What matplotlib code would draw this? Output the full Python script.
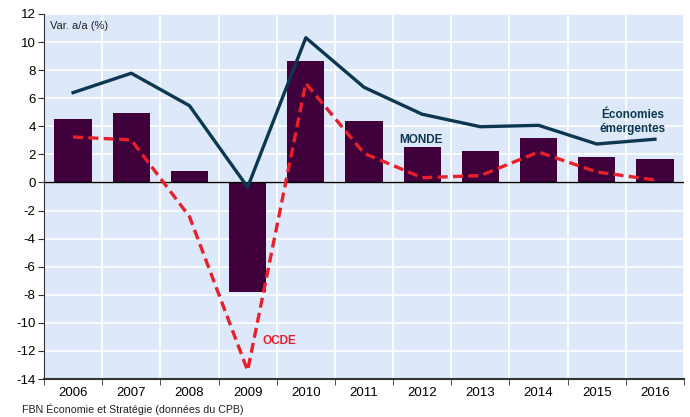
import numpy as np
import matplotlib.pyplot as plt

plt.rcParams['font.family'] = ['Liberation Sans', 'DejaVu Sans']
plt.rcParams['axes.unicode_minus'] = False

years = ['2006', '2007', '2008', '2009', '2010', '2011', '2012', '2013', '2014', '2015', '2016']
monde = [4.5, 4.93, 0.82, -7.78, 8.63, 4.38, 2.53, 2.22, 3.15, 1.8, 1.67]
emergentes = [6.4, 7.78, 5.47, -0.34, 10.31, 6.78, 4.86, 3.97, 4.07, 2.74, 3.08]
ocde = [3.24, 3.03, -2.43, -13.4, 7.07, 2.08, 0.34, 0.49, 2.17, 0.75, 0.18]

x = np.arange(len(years))

fig = plt.figure(figsize=(6.9, 4.17), dpi=100)
ax = fig.add_axes([44/690, 1-379/417, 640/690, 365/417])
ax.set_facecolor('#dde9fb')

ax.bar(x, monde, width=0.64, color='#3f003b', zorder=2)
ax.plot(x, emergentes, color='#0b3850', lw=2.4, zorder=3)
ax.plot(x, ocde, color='#e8202a', lw=2.4, ls=(0, (3, 1.6)), zorder=3)
ax.axhline(0, color='black', lw=1, zorder=2.5)

ax.set_xlim(-0.5, len(years) - 0.5)
ax.set_ylim(-14, 12)
ax.set_yticks(np.arange(-14, 13, 2))
ax.set_xticks(x)
ax.set_xticklabels(years)
ax.set_xticks(np.arange(-0.5, len(years), 1), minor=True)
ax.grid(True, which='minor', axis='x', color='white', lw=1.2, zorder=1)
ax.grid(True, which='major', axis='y', color='white', lw=1.2, zorder=1)
ax.tick_params(axis='x', which='major', length=0, labelsize=9.5, pad=6)
ax.tick_params(axis='x', which='minor', length=4, direction='out', color='#333333')
ax.tick_params(axis='y', length=4, labelsize=9.5, pad=2, color='#333333')
for s in ['top', 'right']:
    ax.spines[s].set_visible(False)
ax.spines['left'].set_color('#333333')
ax.spines['bottom'].set_color('#333333')
ax.spines['bottom'].set_linewidth(1.5)

ax.text(6 / 640, 1 - 12 / 365, 'Var. a/a (%)', transform=ax.transAxes, fontsize=8, va='center', color='#222222')
ax.text(5.6, 3.0, 'MONDE', fontsize=8.5, fontweight='bold', color='#0b3850', va='center')
ax.text(9.62, 4.3, 'Économies\némergentes', fontsize=8.5, fontweight='bold', color='#0b3850',
        ha='center', va='center', linespacing=1.15)
ax.text(3.26, -11.27, 'OCDE', fontsize=8.5, fontweight='bold', color='#e8202a', va='center')

fig.text(22/690, 1-409/417, 'FBN Économie et Stratégie (données du CPB)', fontsize=7.7, va='center', color='#222222')

fig.savefig('out.png', dpi=100)
